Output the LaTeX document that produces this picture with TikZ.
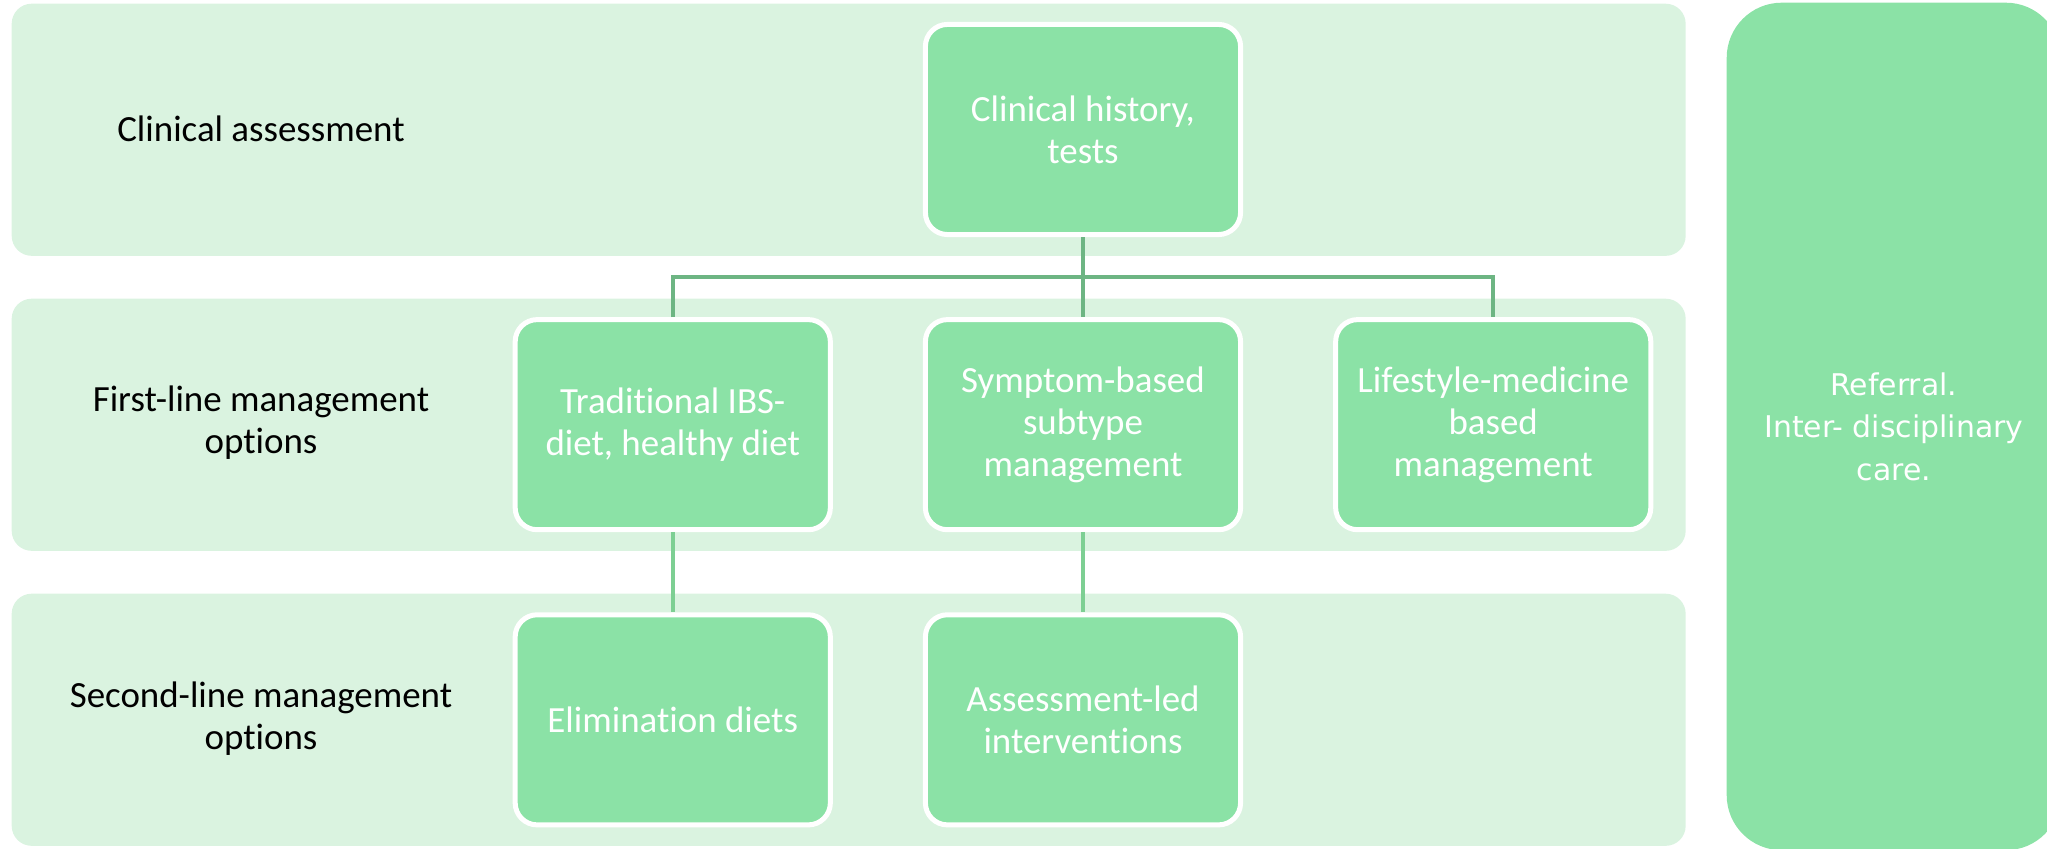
\documentclass[tikz,border=0pt]{standalone}
\usepackage{fontspec}
\setmainfont{Carlito}[Ligatures=NoCommon]
\newfontfamily\referralfont{DejaVu Sans}
\usepackage{color}
\definecolor{bandgreen}{RGB}{218,243,224}
\definecolor{boxgreen}{RGB}{139,226,166}
\definecolor{linkgreen}{RGB}{109,181,131}
\definecolor{lightlinkgreen}{RGB}{125,207,147}
\usetikzlibrary{positioning}
\newcommand{\widthband}{16.73cm}
\newcommand{\heightband}{2.52cm}
\newcommand{\widthstage}{3.15cm}
\newcommand{\heightstage}{2.10cm}
\tikzset{
    common/.style={font=\fontsize{10.5pt}{11.95pt}\selectfont, align=center},
    band/.style={anchor=north west, fill=bandgreen, rounded corners=0.2cm, minimum width=\widthband, minimum height=\heightband},
    rowtitle/.style={common, text=black},
    stage/.style={common, draw=white, line width=0.05cm, fill=boxgreen, text=white, rounded corners=0.22cm, minimum width=\widthstage, minimum height=\heightstage, inner sep=0pt},
    referral/.style={anchor=north west, fill=boxgreen, text=white, align=center, rounded corners=0.55cm, minimum width=3.34cm, minimum height=8.47cm,
        font=\referralfont\fontsize{8.5pt}{12.1pt}\selectfont},
    link/.style={linkgreen, line width=0.04cm},
    lightlink/.style={link, lightlinkgreen}
}

\begin{document}
\begin{tikzpicture}[x=0.01cm, y=-0.01cm, node distance=0.8cm and 0.9cm]
    \useasboundingbox (0,0) rectangle (2047,849);
    \clip (0,0) rectangle (2047,849);

    % background bands
    \node[band] (bandA) at (11,3) {};
    \node[band] (bandB) at (11,298) {};
    \node[band] (bandC) at (11,593) {};

    \node[referral] (refer) at (1726,2) {Referral.\\Inter- disciplinary\\care.};

    \node[rowtitle] (titleA) at (261,129) {Clinical assessment};
    \node[rowtitle] (titleB) at (261,423) {First-line management\\options};
    \node[rowtitle] (titleC) at (261,719) {Second-line management\\options};

    \node[stage] (hist) at (1083,129.5) {Clinical history,\\tests};
    \node[stage, below=of hist] (symp) {Symptom-based\\subtype\\management};
    \node[stage, left=of symp] (trad) {Traditional IBS-\\diet, healthy diet};
    \node[stage, right=of symp] (life) {Lifestyle-medicine\\based\\management};
    \node[stage, below=of symp] (assess) {Assessment-led\\interventions};
    \node[stage, left=of assess] (elim) {Elimination diets};

    \draw[link] (trad.north) -- ++(0,-40) -| (life.north);
    \draw[link] (hist) -- (symp);
    \draw[lightlink] (trad) -- (elim);
    \draw[lightlink] (symp) -- (assess);

\end{tikzpicture}
\end{document}
